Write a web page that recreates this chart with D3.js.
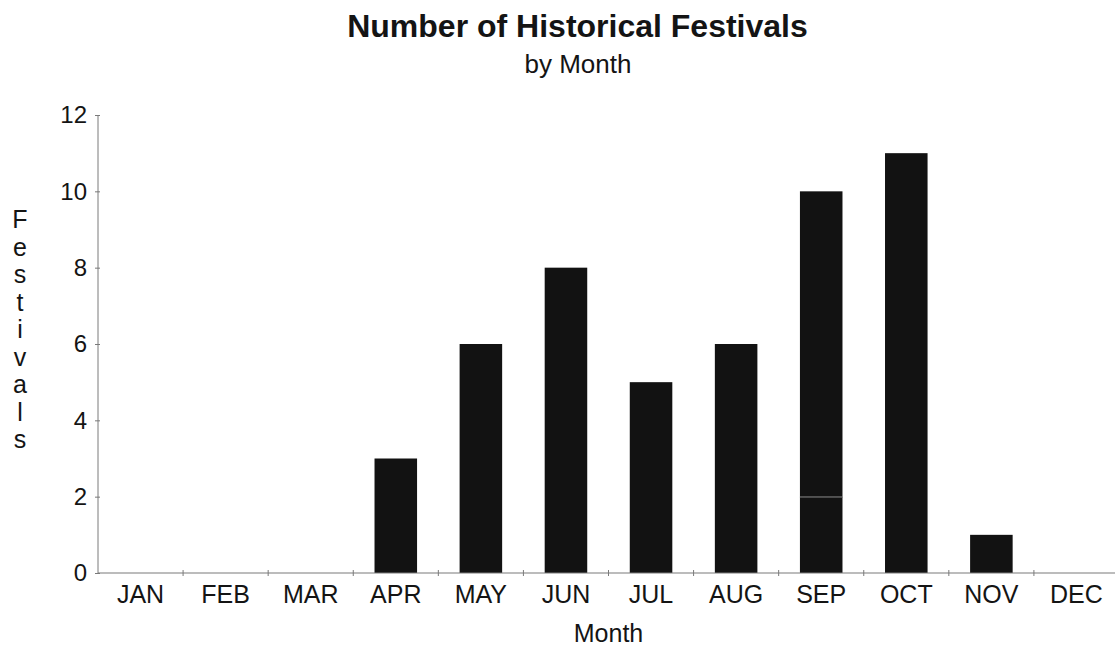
<!DOCTYPE html>
<html>
<head>
<meta charset="utf-8">
<script src="https://cdn.jsdelivr.net/npm/d3@7"></script>
<style>
  html, body { margin: 0; padding: 0; background: #fff; }
  svg { display: block; font-family: "Liberation Sans", Arial, Helvetica, sans-serif; }
</style>
</head>
<body>
<svg id="chart" width="1115" height="648"></svg>
<script>
// Festivals per month, two stacked groups (September is split 2 + 8)
const months = ["JAN","FEB","MAR","APR","MAY","JUN","JUL","AUG","SEP","OCT","NOV","DEC"];
const groupLower = [0, 0, 0, 3, 6, 8, 5, 6, 2, 11, 1, 0];
const groupUpper = [0, 0, 0, 0, 0, 0, 0, 0, 8, 0, 0, 0];
const yTicks = [0, 2, 4, 6, 8, 10, 12];

const titleText = "Number of Historical Festivals";
const subtitleText = "by Month";
const xTitle = "Month";
const yTitle = "Festivals";

const svg = d3.select("#chart");

const rows = months.map((m, i) => ({ month: m, lower: groupLower[i], upper: groupUpper[i] }));
const stacked = d3.stack().keys(["lower", "upper"])(rows);

const x = d3.scaleBand().domain(months).range([98, 1119]).paddingInner(0.5).paddingOuter(0.25);
const y = d3.scaleLinear().domain([0, 12]).range([573, 115]);

const axisColor = "#7a7a7a";
const ink = "#141414";

// Title block
svg.append("text")
  .attr("x", 577.5).attr("y", 37)
  .attr("text-anchor", "middle")
  .attr("font-size", 32).attr("font-weight", "bold").attr("fill", ink)
  .text(titleText);
svg.append("text")
  .attr("x", 578).attr("y", 73)
  .attr("text-anchor", "middle")
  .attr("font-size", 26).attr("fill", ink)
  .text(subtitleText);

// Bars
const layers = svg.append("g").selectAll("g").data(stacked).join("g").attr("fill", "#121212");
layers.selectAll("rect")
  .data(d => d.filter(s => s[1] > s[0]).map(s => ({ s, month: s.data.month })))
  .join("rect")
  .attr("x", d => x(d.month))
  .attr("width", x.bandwidth())
  .attr("y", d => y(d.s[1]))
  .attr("height", d => y(d.s[0]) - y(d.s[1]));

// Thin seam where one stacked segment sits on another
svg.append("g").selectAll("line")
  .data(rows.filter(r => r.lower > 0 && r.upper > 0))
  .join("line")
  .attr("x1", d => x(d.month)).attr("x2", d => x(d.month) + x.bandwidth())
  .attr("y1", d => y(d.lower) + 0.5).attr("y2", d => y(d.lower) + 0.5)
  .attr("stroke", "#6a6a6a").attr("stroke-width", 1);

// Y axis
const yAxis = svg.append("g").attr("transform", "translate(98,0)")
  .call(d3.axisLeft(y).tickValues(yTicks).tickSize(3).tickPadding(8).tickFormat(d3.format("d")));
yAxis.select(".domain").attr("stroke", axisColor).attr("d", `M0,${y(12)}V${y(0)}`);
yAxis.selectAll(".tick line").attr("stroke", axisColor).attr("x1", -3).attr("x2", 2);
yAxis.selectAll(".tick text")
  .attr("font-size", 24).attr("fill", ink)
  .attr("font-family", "'Liberation Sans', Arial, sans-serif");

// X axis with ticks on band boundaries
const xAxisG = svg.append("g").attr("transform", `translate(0,${y(0)})`);
xAxisG.append("line")
  .attr("x1", 98).attr("x2", 1119).attr("y1", 0).attr("y2", 0)
  .attr("stroke", axisColor).attr("stroke-width", 1.2);
xAxisG.selectAll(".bt")
  .data(months.slice(1))
  .join("line").attr("class", "bt")
  .attr("x1", d => x(d) - x.bandwidth() / 2)
  .attr("x2", d => x(d) - x.bandwidth() / 2)
  .attr("y1", -3).attr("y2", 3)
  .attr("stroke", axisColor).attr("stroke-width", 1);
xAxisG.selectAll(".ml")
  .data(months)
  .join("text").attr("class", "ml")
  .attr("x", d => x(d) + x.bandwidth() / 2)
  .attr("y", 30)
  .attr("text-anchor", "middle")
  .attr("font-size", 25).attr("fill", ink)
  .text(d => d);

// Axis titles
svg.append("text")
  .attr("x", (98 + 1119) / 2).attr("y", 642)
  .attr("text-anchor", "middle")
  .attr("font-size", 25).attr("fill", ink)
  .text(xTitle);

const yTitleG = svg.append("text")
  .attr("text-anchor", "middle").attr("font-size", 25).attr("fill", ink);
yTitleG.selectAll("tspan")
  .data(yTitle.split(""))
  .join("tspan")
  .attr("x", 20)
  .attr("y", (d, i) => 228 + i * 27.5)
  .text(d => d);
</script>
</body>
</html>
